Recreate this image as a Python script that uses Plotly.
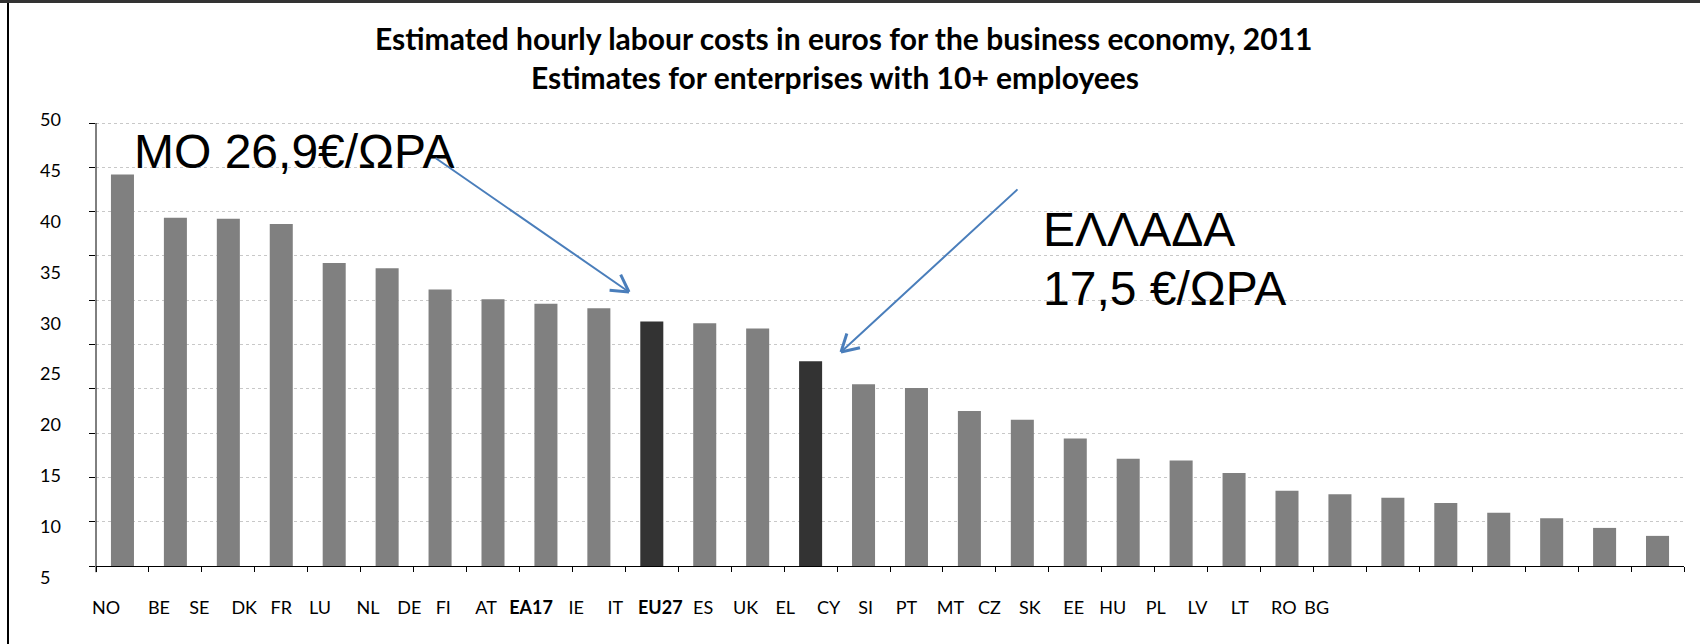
import math
import plotly.graph_objects as go

# ---------------- data ----------------
countries = ["NO", "BE", "SE", "DK", "FR", "LU", "NL", "DE", "FI", "AT",
             "EA17", "IE", "IT", "EU27", "ES", "UK", "EL", "CY", "SI", "PT",
             "MT", "CZ", "SK", "EE", "HU", "PL", "LV", "LT", "RO", "BG"]
labour_cost = [44.2, 39.3, 39.2, 38.6, 34.2, 33.6, 31.2, 30.1, 29.6, 29.1,
               27.6, 27.4, 26.8, 23.1, 20.5, 20.1, 17.5, 16.5, 14.4, 12.1,
               11.9, 10.5, 8.5, 8.1, 7.7, 7.1, 6.0, 5.4, 4.3, 3.4]
highlighted = ["EA17", "EU27"]
bold_labels = ["EA17", "EU27"]
y_tick_labels = [50, 45, 40, 35, 30, 25, 20, 15, 10, 5]

title_line1 = "Estimated hourly labour costs in euros for the business economy, 2011"
title_line2 = "Estimates for enterprises with 10+ employees"
note_avg = "ΜΟ 26,9€/ΩΡΑ"
note_gr1 = "ΕΛΛΑΔΑ"
note_gr2 = "17,5 €/ΩΡΑ"

# ---------------- layout helpers ----------------
W, H = 1700, 644
L, R, T, B = 96, 1684, 117, 580          # plot area in pixels
PW, PH = R - L, B - T

def px_x(p):
    return (p - L) / PW

def px_y(p):
    return (B - p) / PH

# y axis: 0 at 566 px, 50 at 123 px
y_per_px = 50 / (566 - 123)
y_range = [-(B - 566) * y_per_px, 50 + (123 - T) * y_per_px]
# free-floating tick labels of the original (not aligned with gridlines)
lab_a, lab_b = 628.3, 10.165
y2_range = [(lab_a - B) / lab_b, (lab_a - T) / lab_b]

# label offsets along the category axis (labels drawn out of step with bars)
label_pos = [-0.31, 0.69, 1.45, 2.30, 3.00, 3.73, 4.64, 5.42, 6.06, 6.87,
             7.72, 8.57, 9.31, 10.16, 10.97, 11.77, 12.52, 13.34, 14.04, 14.81,
             15.64, 16.38, 17.14, 17.97, 18.71, 19.52, 20.31, 21.11, 21.94, 22.56]

colors = ["#333333" if c in highlighted else "#808080" for c in countries]
ticktext = [f"<b>{c}</b>" if c in bold_labels else c for c in countries]
y_ticktext = [f"{v}\u2007" if v < 10 else str(v) for v in y_tick_labels]

FONT = "Lato, Carlito, sans-serif"

fig = go.Figure()
fig.add_trace(go.Bar(x=countries, y=labour_cost, marker_color=colors,
                     marker_line_width=0, showlegend=False,
                     hovertemplate="%{x}: %{y}<extra></extra>"))
fig.add_trace(go.Scatter(x=[label_pos[0]], y=[y_tick_labels[0]], xaxis="x2", yaxis="y2",
                         mode="markers", marker=dict(opacity=0), hoverinfo="skip",
                         showlegend=False))

axis_y_pos = px_y(566)
fig.update_layout(
    width=W, height=H, autosize=False,
    margin=dict(l=L, r=W - R, t=T, b=H - B, pad=0),
    paper_bgcolor="white", plot_bgcolor="white",
    bargap=0.565,
    font=dict(family=FONT, color="black"),
    xaxis=dict(type="category", range=[-0.5, len(countries) - 0.5],
               anchor="free", position=axis_y_pos,
               showline=True, linecolor="black", linewidth=1,
               ticks="outside", tickson="boundaries", ticklen=5, tickcolor="black",
               showticklabels=False, showgrid=False, zeroline=False, fixedrange=True),
    xaxis2=dict(type="linear", overlaying="x", anchor="free", position=axis_y_pos,
                range=[-0.5, len(countries) - 0.5],
                tickmode="array", tickvals=label_pos, ticktext=ticktext,
                ticks="", showline=False, showgrid=False, zeroline=False,
                ticklabelstandoff=29, fixedrange=True,
                tickfont=dict(family=FONT, size=18, color="black")),
    yaxis=dict(range=y_range, tick0=0, dtick=5, showticklabels=False,
               ticks="outside", ticklen=6, tickcolor="black",
               showgrid=True, gridcolor="#c8c8c8", griddash="dot", gridwidth=1,
               zeroline=False, showline=False, fixedrange=True),
    yaxis2=dict(overlaying="y", side="left", anchor="x", range=y2_range,
                tickmode="array", tickvals=y_tick_labels, ticktext=y_ticktext,
                ticks="", showgrid=False, zeroline=False, showline=False,
                ticklabelstandoff=34, fixedrange=True,
                tickfont=dict(family=FONT, size=18, color="black")),
)

shapes = [
    # y axis line
    dict(type="line", xref="paper", yref="y", x0=0, x1=0, y0=-0.7, y1=50,
         line=dict(color="black", width=1)),
    # slide frame (left and top)
    dict(type="line", xref="paper", yref="paper", x0=px_x(8), x1=px_x(8),
         y0=px_y(0), y1=px_y(H + 5), line=dict(color="black", width=2)),
    dict(type="line", xref="paper", yref="paper", x0=px_x(0), x1=px_x(W),
         y0=px_y(1.5), y1=px_y(1.5), line=dict(color="#333333", width=3)),
]
fig.update_layout(shapes=shapes)

ann = []
ann.append(dict(text=f"<b>{title_line1}</b>", xref="paper", yref="paper",
                x=px_x(843), y=px_y(38), xanchor="center", yanchor="middle",
                showarrow=False, font=dict(family=FONT, size=30, color="black")))
ann.append(dict(text=f"<b>{title_line2}</b>", xref="paper", yref="paper",
                x=px_x(835), y=px_y(77), xanchor="center", yanchor="middle",
                showarrow=False, font=dict(family=FONT, size=30, color="black")))
greek_font = dict(family="Liberation Sans, Arial, sans-serif", size=48, color="black")
ann.append(dict(text=note_avg, xref="paper", yref="paper", x=px_x(132), y=px_y(151),
                xanchor="left", yanchor="middle", showarrow=False, font=greek_font))
ann.append(dict(text=note_gr1, xref="paper", yref="paper", x=px_x(1041), y=px_y(229),
                xanchor="left", yanchor="middle", showarrow=False, font=greek_font))
ann.append(dict(text=note_gr2, xref="paper", yref="paper", x=px_x(1041), y=px_y(288),
                xanchor="left", yanchor="middle", showarrow=False, font=greek_font))

arrow_color = "#4a7ebb"
for (tx, ty), (hx, hy) in [((434, 157), (629, 292)), ((1019, 188), (841, 352))]:
    # shaft
    ann.append(dict(text="", xref="paper", yref="paper", x=px_x(hx), y=px_y(hy),
                    ax=tx - hx, ay=ty - hy, axref="pixel", ayref="pixel",
                    showarrow=True, arrowhead=0, arrowwidth=2, arrowcolor=arrow_color))
    # open V head
    back = math.atan2(ty - hy, tx - hx)
    for d in (-0.52, 0.52):
        a = back + d
        ann.append(dict(text="", xref="paper", yref="paper", x=px_x(hx), y=px_y(hy),
                        ax=21 * math.cos(a), ay=21 * math.sin(a), axref="pixel", ayref="pixel",
                        showarrow=True, arrowhead=0, arrowwidth=3, arrowcolor=arrow_color))
fig.update_layout(annotations=ann)

fig.write_html("out.html", config={"displayModeBar": False},
               post_script="document.body.style.margin='0';")
